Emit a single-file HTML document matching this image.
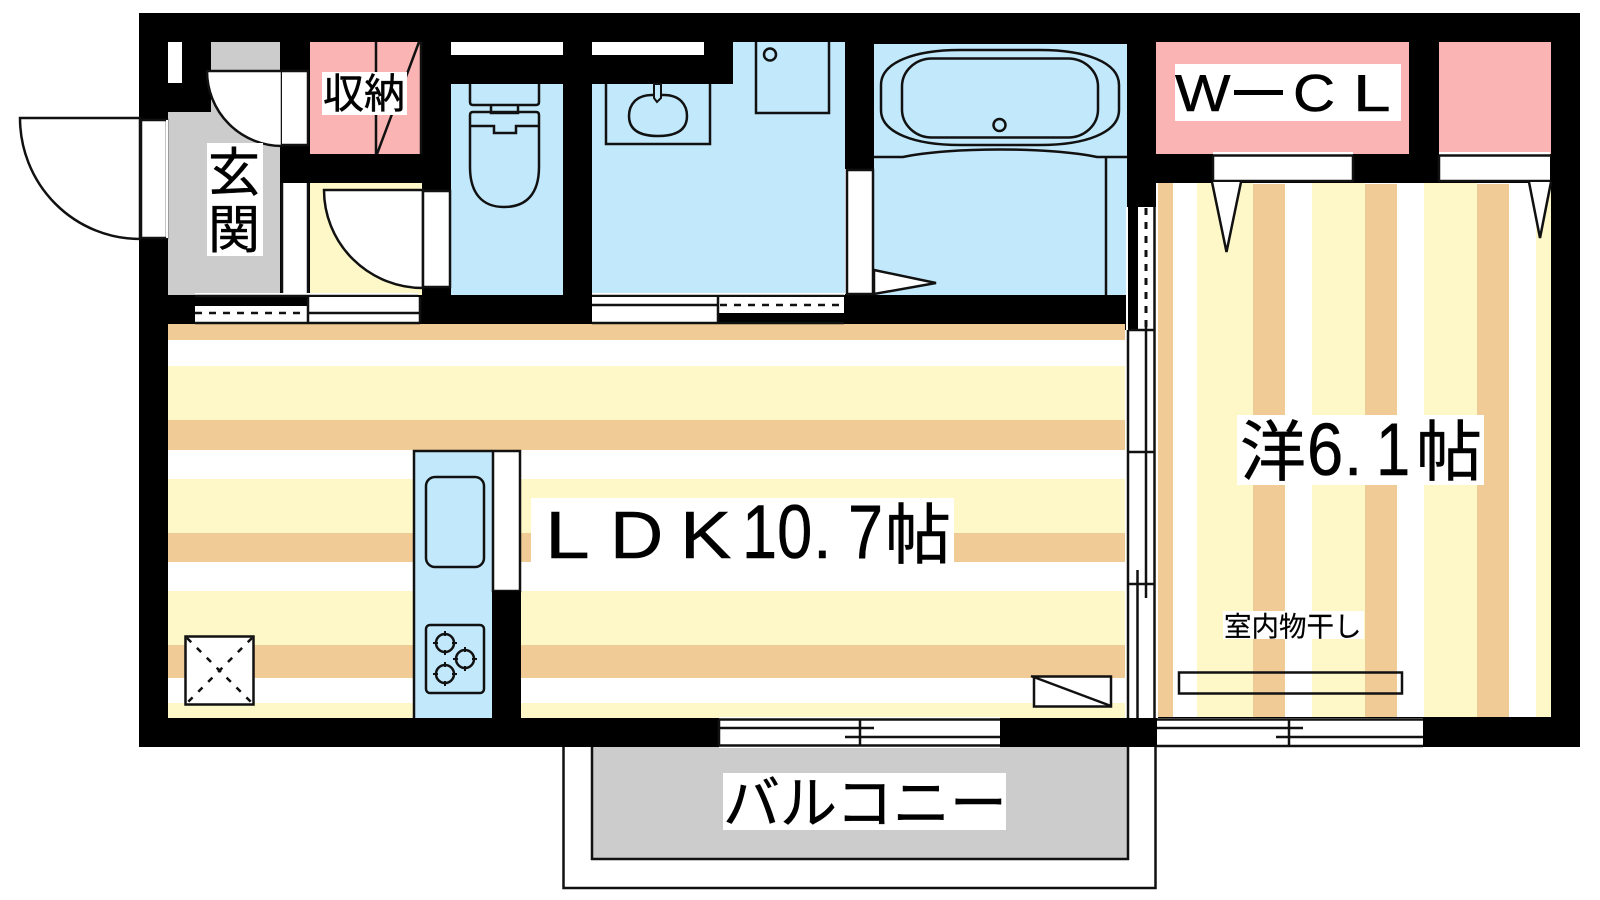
<!DOCTYPE html>
<html lang="ja">
<head>
<meta charset="utf-8">
<title>間取り図</title>
<style>
html,body{margin:0;padding:0;background:#fff;width:1600px;height:900px;overflow:hidden}
svg{display:block}
text{font-family:"Liberation Sans","Noto Sans CJK JP",sans-serif;fill:#000;stroke:#000;stroke-width:.5}
.l{fill:none;stroke:#111;stroke-width:2.5}
.w{fill:#fff;stroke:#111;stroke-width:2.5}
.b{fill:none;stroke:#111;stroke-width:2.5}
</style>
</head>
<body>
<svg width="1600" height="900" viewBox="0 0 1600 900" xmlns="http://www.w3.org/2000/svg">
<rect width="1600" height="900" fill="#fff"/>

<!-- balcony -->
<rect x="563.500" y="740" width="592" height="148" fill="#fff" stroke="#111" stroke-width="2.500"/>
<rect x="592" y="740" width="536" height="119" fill="#ccc" stroke="#111" stroke-width="2.500"/>

<!-- building -->
<rect x="139" y="13" width="1441" height="734" fill="#000"/>

<!-- entrance -->
<rect x="168" y="112" width="112" height="183" fill="#ccc"/>
<rect x="211" y="42" width="69" height="104" fill="#ccc"/>
<rect x="168" y="42" width="14" height="41" fill="#fff"/>

<!-- storage -->
<rect x="310" y="42" width="111" height="112" fill="#fbb4b4"/>
<path class="l" d="M376 42V154M419 42L377 154M421 42V154"/>

<!-- yellow closet -->
<rect x="310" y="183" width="112" height="112" fill="#fef8c8"/>

<!-- toilet room -->
<rect x="451" y="42" width="112" height="13" fill="#fff"/>
<rect x="451" y="84" width="112" height="211" fill="#c2e9fb"/>
<path class="l" d="M470 84V102Q470 105 473 105H536Q539 105 539 102V84"/>
<path class="l" d="M491 105V113H518V105"/>
<path class="l" d="M470 126V115Q470 112 473 112H536Q539 112 539 115V126"/>
<path class="l" d="M470 126H494V133H516V126H539"/>
<path class="l" d="M470 126V167C470 193 482 207 504 207C527 207 539 193 539 167V126"/>

<!-- washroom -->
<rect x="592" y="42" width="112" height="13" fill="#fff"/>
<rect x="592" y="84" width="253" height="209" fill="#c2e9fb"/>
<rect x="733" y="42" width="112" height="44" fill="#c2e9fb"/>
<path class="l" d="M606 84V144H710V84"/>
<path class="l" d="M652 95C636 95 629 105 629 116C629 128 637 136 658 136C679 136 687 128 687 116C687 105 680 95 664 95Z"/>
<path d="M654 84V98L657 102L661 98V84Z" fill="#c2e9fb" stroke="#111" stroke-width="2"/>
<path class="l" d="M756 42V113H829V42"/>
<circle class="l" cx="770" cy="54.500" r="6"/>

<!-- bath -->
<rect x="874" y="44" width="253" height="251" fill="#c2e9fb"/>
<path class="l" d="M881 85C881 62 915 50 960 50H1040C1085 50 1119 62 1119 85V110C1119 133 1085 145 1040 145H960C915 145 881 133 881 110Z"/>
<rect class="l" x="902" y="58.500" width="196" height="79" rx="30" ry="28"/>
<circle class="l" cx="999.500" cy="125" r="6"/>
<path class="l" d="M874 157H903C950 147 1050 147 1097 157H1127M1106 157V295"/>
<path d="M874 270L936 283L874 294Z" class="w"/>

<!-- bath door slot -->
<rect x="845" y="169" width="29" height="125" fill="#fff"/>
<rect x="847" y="170" width="26" height="124" fill="#fff" stroke="#111" stroke-width="2.500"/>

<!-- WCL -->
<rect x="1156" y="42" width="253" height="112" fill="#fbb4b4"/>
<rect x="1439" y="42" width="112" height="112" fill="#fbb4b4"/>

<!-- LDK floor -->
<rect x="168" y="324" width="957" height="394" fill="#fff"/>
<g fill="#f0cb96">
<rect x="168" y="324" width="957" height="16"/>
<rect x="168" y="420" width="957" height="30"/>
<rect x="168" y="533" width="957" height="29"/>
<rect x="168" y="645" width="957" height="33"/>
</g>
<g fill="#fef8c8">
<rect x="168" y="366" width="957" height="54"/>
<rect x="168" y="479" width="957" height="54"/>
<rect x="168" y="591" width="957" height="54"/>
<rect x="168" y="703" width="957" height="15"/>
</g>

<!-- western room floor -->
<rect x="1156" y="183" width="395" height="534" fill="#fff"/>
<g fill="#f0cb96">
<rect x="1158" y="183" width="15" height="534"/>
<rect x="1253" y="184" width="32" height="533"/>
<rect x="1365" y="184" width="32" height="533"/>
<rect x="1477" y="184" width="32" height="533"/>
</g>
<g fill="#fef8c8">
<rect x="1197" y="183" width="56" height="534"/>
<rect x="1312" y="183" width="53" height="534"/>
<rect x="1424" y="183" width="53" height="534"/>
<rect x="1536" y="183" width="15" height="534"/>
</g>

<!-- inner doors -->
<path class="w" d="M207 71H282V146A75 75 0 0 1 207 71Z"/>
<rect x="282" y="71" width="27" height="74" fill="#fff"/>
<path class="l" d="M282 71H308V145H282"/>
<rect x="282" y="183" width="27" height="112" fill="#fff"/>
<path class="l" d="M282 183V293M308 183V293"/>
<path class="w" d="M324 190H423V288A99 98 0 0 1 324 190Z"/>
<rect x="423" y="191" width="27" height="96" class="w"/>

<!-- entrance door -->
<path class="w" d="M20 118H140V239A120 121 0 0 1 20 118Z"/>
<rect x="141" y="120" width="26" height="118" class="w"/>
<rect x="166" y="120" width="2" height="118" fill="#fff"/>

<!-- upper partition sliders -->
<rect x="195" y="293" width="223" height="2" fill="#fff"/>
<path class="l" d="M195 296H418"/>
<rect x="195" y="306" width="113" height="17" fill="#fff"/>
<rect x="308" y="297" width="112" height="26" fill="#fff"/>
<path d="M195 313H307" fill="none" stroke="#111" stroke-width="2.500" stroke-dasharray="7 7"/>
<path class="l" d="M308 313H420M195 323H420M308 297V323M420 297V323"/>
<rect x="592" y="293" width="253" height="2" fill="#fff"/>
<path class="l" d="M592 296H844"/>
<rect x="592" y="297" width="126" height="26" fill="#fff"/>
<rect x="719" y="297" width="125" height="16" fill="#fff"/>
<path class="l" d="M592 305H718M592 323H844M718 296V323"/>
<path d="M720 305H844" fill="none" stroke="#111" stroke-width="2.500" stroke-dasharray="7 7"/>

<!-- closet sliders -->
<rect x="1213" y="152" width="140" height="30" fill="#fff"/>
<path class="l" d="M1213 155.500H1353M1213 181H1353M1213 155V182M1353 155V182"/>
<rect x="1439" y="152" width="111" height="30" fill="#fff"/>
<path class="l" d="M1439 155.500H1551M1439 181H1551M1439 155V182"/>
<path class="w" d="M1212 182L1226.500 252L1241 182"/>
<path class="w" d="M1529 182L1540 238L1551 182"/>

<!-- vertical window between LDK and room -->
<rect x="1126" y="207" width="2" height="123" fill="#fff"/>
<rect x="1138" y="207" width="17" height="123" fill="#fff"/>
<rect x="1155" y="207" width="3" height="123" fill="#fff"/>
<rect x="1125" y="330" width="33" height="388" fill="#fff"/>
<path d="M1146 208V328" fill="none" stroke="#111" stroke-width="3" stroke-dasharray="7 7"/>
<path class="l" d="M1128 330V718M1154.500 207V718M1128 330H1155M1128 452H1155M1128 584H1155M1146 326V598M1137.500 570V718"/>

<!-- bottom windows -->
<rect x="719" y="717" width="281" height="31" fill="#fff"/>
<path class="l" d="M719 719.500H1000M719 728H874M845 737H1000M719 745.500H1000M860 719V746M719 719V746"/>
<rect x="1157" y="718" width="266" height="29" fill="#fff"/>
<path class="l" d="M1157 719.500H1423M1157 728H1303M1276 737H1423M1157 746H1423M1289 719V746"/>

<!-- kitchen -->
<rect x="413" y="450" width="79" height="268" fill="#c2e9fb"/>
<path class="l" d="M414 718V451H492"/>
<rect class="l" x="426" y="477" width="58" height="90" rx="9"/>
<rect class="l" x="426" y="625" width="58" height="68" rx="4"/>
<circle class="l" cx="445" cy="643" r="9"/>
<circle class="l" cx="465" cy="659" r="9"/>
<circle class="l" cx="445" cy="674" r="9"/>
<path d="M445 631V636M445 650V655M433 643H438M452 643H457M465 647V652M465 666V671M453 659H458M472 659H477M445 662V667M445 681V686M433 674H438M452 674H457" fill="none" stroke="#111" stroke-width="2"/>
<rect class="w" x="493" y="451" width="27" height="140"/>
<rect x="492" y="591" width="29" height="127" fill="#000"/>

<!-- vent -->
<rect x="185.500" y="636.500" width="68" height="68" class="w"/>
<path d="M187 638L252 703M252 638L187 703" fill="none" stroke="#111" stroke-width="2.500" stroke-dasharray="6 8"/>

<!-- AC -->
<rect x="1034" y="676.500" width="77" height="30" class="w"/>
<path class="l" d="M1031 676L1111 706"/>

<!-- drying rail -->
<rect class="b" x="1179" y="672.500" width="223" height="21"/>

<!-- labels -->
<rect x="322" y="72" width="85" height="43" fill="#fff"/>
<text x="323" y="108" font-size="41">収納</text>

<rect x="207" y="143" width="56" height="113" fill="#fff"/>
<text x="208" y="191" font-size="52">玄</text>
<text x="208" y="248" font-size="52">関</text>

<rect x="1175" y="64" width="226" height="57" fill="#fff"/>
<text transform="translate(1175,111) scale(1.13,1)" font-size="52">W</text>
<text transform="translate(1293,111) scale(1.12,1)" font-size="52">C</text>
<text transform="translate(1353,111) scale(1.3,1)" font-size="52">L</text>
<rect x="1234" y="90" width="49" height="5" fill="#000"/>

<rect x="531" y="498" width="423" height="88" fill="#fff"/>
<text transform="translate(545,558) scale(1.2,1)" font-size="67">L</text>
<text transform="translate(610,558) scale(1.1,1)" font-size="67">D</text>
<text transform="translate(680,558) scale(1.15,1)" font-size="67">K</text>
<text transform="translate(742,558) scale(.83,1)" font-size="76">10</text>
<text x="813" y="558" font-size="67">.</text>
<text transform="translate(848,558) scale(.83,1)" font-size="76">7</text>
<text x="885" y="558" font-size="66">帖</text>

<rect x="1237" y="415" width="247" height="70" fill="#fff"/>
<text x="1240" y="475" font-size="66">洋</text>
<text transform="translate(1307,475) scale(.88,1)" font-size="74">6</text>
<text x="1344" y="475" font-size="66">.</text>
<text transform="translate(1376,475) scale(.83,1)" font-size="74">1</text>
<text x="1416" y="475" font-size="66">帖</text>

<rect x="1223" y="611" width="141" height="28" fill="#fff"/>
<text x="1224" y="636" font-size="27.500" style="stroke-width:.2">室内物干し</text>

<rect x="723" y="773" width="283" height="57" fill="#fff"/>
<text x="723" y="823" font-size="57">バルコニー</text>
</svg>
</body>
</html>
